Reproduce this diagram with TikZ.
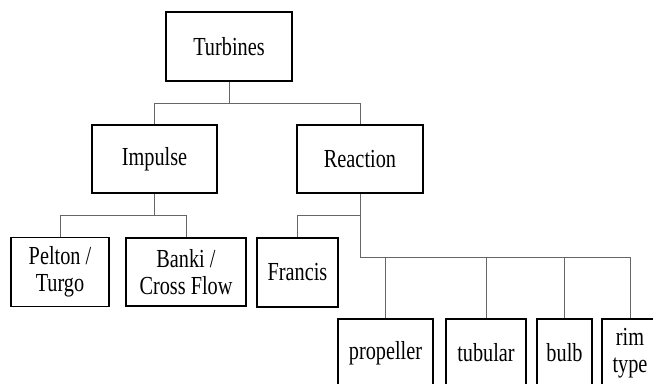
\documentclass[tikz,border=0pt]{standalone}
\usepackage{fontspec}
\setmainfont{Liberation Serif}[FakeStretch=0.78]
\usepackage{tikz}
\usetikzlibrary{positioning, calc}
\tikzset{box/.style={rectangle,draw,line width=1.7pt,fill=white,align=center,inner sep=1pt,minimum height=68pt,font=\fontsize{26}{27}\selectfont},
         link/.style={draw,gray!80!black,line width=0.9pt}}

\begin{document}
\begin{tikzpicture}[x=1pt,y=-1pt]
    \clip (0,0) rectangle (653,383);
    % Levels
    \node (turbines) at (229,46.5) [box,minimum width=126pt,minimum height=69pt]{Turbines};
    \node (impulse) at (154.5,159) [box,minimum width=125pt]{Impulse};
    \node (reaction) at (360,159) [box,minimum width=126pt]{Reaction};
    \node (pelton) at (60,272) [box,minimum width=98pt,minimum height=69pt]{Pelton /\\Turgo};
    \node (banki) at (186,272) [box,minimum width=120pt]{Banki /\\Cross Flow};
    \node (francis) at (297.5,272.5) [box,minimum width=81pt,minimum height=69pt]{Francis};
    \node (propeller) at (385.5,353) [box,minimum width=95pt]{propeller};
    \node (tubular) at (486,353) [box,minimum width=80pt]{tubular};
    \node (bulb) at (564.5,353) [box,minimum width=55pt]{bulb};
    \node (rim) at (630,353) [box,minimum width=56pt]{rim\\type};
    % Links
    \draw[link] (turbines.south) -- ++(0,22) coordinate (tj) -| (impulse.north);
    \draw[link] (tj) -| (reaction.north);
    \draw[link] (impulse.south) -- ++(0,22) coordinate (ij) -| (pelton.north);
    \draw[link] (ij) -| (banki.north);
    \draw[link] (reaction.south) -- ++(0,22) coordinate (rj) -| (francis.north);
    \draw[link] (rj) -- ++(0,42) coordinate (rk) -| (rim.north);
    \draw[link] (rk) -| (propeller.north);
    \draw[link] (rk) -| (tubular.north);
    \draw[link] (rk) -| (bulb.north);
\end{tikzpicture}
\end{document}
